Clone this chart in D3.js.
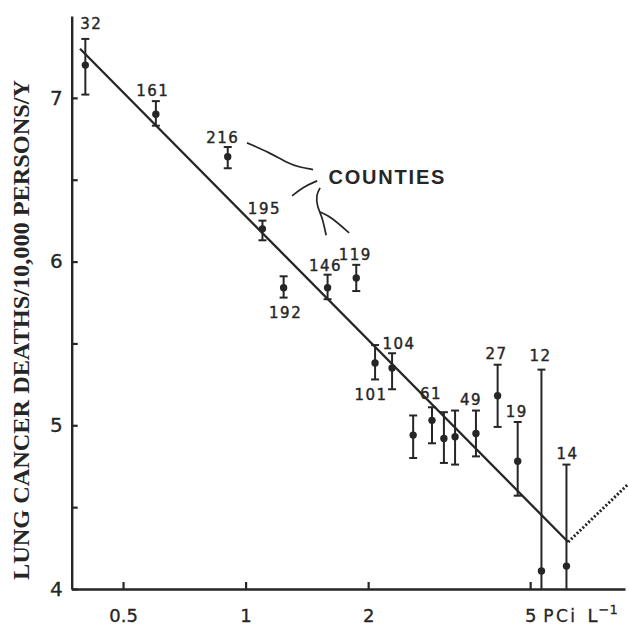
<!DOCTYPE html>
<html>
<head>
<meta charset="utf-8">
<script src="https://cdn.jsdelivr.net/npm/d3@7"></script>
<style>
  html, body { margin: 0; padding: 0; background: #fff; }
  svg { display: block; }
</style>
</head>
<body>
<svg id="chart" width="629" height="627"></svg>
<script>
// ---- data ----
const radon   = [0.404, 0.602, 0.904, 1.10, 1.24, 1.59, 1.87, 2.08, 2.29, 2.58, 2.87, 3.07, 3.27, 3.68, 4.16, 4.66, 5.33, 6.14];
const rate    = [7.20, 6.90, 6.64, 6.20, 5.84, 5.84, 5.90, 5.38, 5.35, 4.94, 5.03, 4.92, 4.93, 4.95, 5.18, 4.78, 4.11, 4.14];
const errHigh = [7.36, 6.98, 6.70, 6.25, 5.91, 5.92, 5.98, 5.49, 5.44, 5.06, 5.11, 5.08, 5.09, 5.09, 5.37, 5.02, 5.34, 4.76];
const errLow  = [7.02, 6.83, 6.57, 6.13, 5.78, 5.77, 5.82, 5.28, 5.22, 4.80, 4.89, 4.77, 4.76, 4.81, 4.99, 4.57, 4.00, 4.00];
const counties = ["32","161","216","195","192","146","119","101","104","","61","","","49","27","19","12","14"];

const fitX = [0.392, 6.20];
const fitY = [7.30, 4.287];
const extX = [6.20, 8.70];
const extY = [4.287, 4.64];

const xTicks = [0.5, 1, 2, 5];
const xTickLabels = ["0.5", "1", "2", "5"];
const yTicks = [4, 4.5, 5, 5.5, 6, 6.5, 7];
const yTickLabels = ["4", "", "5", "", "6", "", "7"];

const yTitle = "LUNG CANCER DEATHS/10,000 PERSONS/Y";
const annotText = "COUNTIES";
const annotAt = [2.23, 6.517];
// leader curves from "COUNTIES" in data coordinates
const leader1 = [[1.008, 6.725], [1.149, 6.664], [1.264, 6.603], [1.361, 6.575], [1.465, 6.562]];
const leader2 = [[1.301, 6.401], [1.384, 6.456], [1.499, 6.493]];
const leader3 = [[1.524, 6.450], [1.490, 6.407], [1.499, 6.334], [1.541, 6.277], [1.577, 6.161]];
const leader4 = [[1.524, 6.303], [1.613, 6.277], [1.796, 6.175]];

// ---- layout (label placement, not data) ----
const labelSide = ["a","a","a","a","b","a","a","b","a","a","a","a","a","a","a","a","a","a"];
const labelDx   = [6, -3, -5, 2, 2, -2, -1, -4, 7, 0, -1, 0, 0, -5, -1, -1, -1, 1];
const labelGap  = [15, 11, 9, 12, 15, 9, 10, 15, 10, 0, 14, 0, 0, 11, 11, 10, 14, 11];

const ink = "#262626";
const svg = d3.select("#chart");

const x = d3.scaleLog().domain([0.374, 8.55]).range([71.7, 625]);
const y = d3.scaleLinear().domain([4, 7.5]).range([589, 16]);

// axes
const xAxis = svg.append("g")
  .attr("transform", `translate(0,${y(4)})`)
  .call(d3.axisBottom(x).tickValues(xTicks)
    .tickFormat((d, i) => xTickLabels[i])
    .tickSizeInner(-7).tickSizeOuter(0).tickPadding(20));
xAxis.select(".domain").attr("stroke", ink).attr("stroke-width", 2.4);
xAxis.selectAll(".tick line").attr("stroke", ink).attr("stroke-width", 2.2);
xAxis.selectAll(".tick text").attr("fill", ink)
  .attr("font-family", "DejaVu Sans").attr("font-size", 18)
  .attr("stroke", ink).attr("stroke-width", 0.3);

const yAxis = svg.append("g")
  .attr("transform", `translate(${x.range()[0]},0)`)
  .call(d3.axisLeft(y).tickValues(yTicks)
    .tickFormat((d, i) => yTickLabels[i])
    .tickSizeInner(-6).tickSizeOuter(0).tickPadding(9));
yAxis.select(".domain").attr("stroke", ink).attr("stroke-width", 2.4);
yAxis.selectAll(".tick line").attr("stroke", ink).attr("stroke-width", 2.2);
yAxis.selectAll(".tick text").attr("fill", ink)
  .attr("font-family", "DejaVu Sans").attr("font-size", 20)
  .attr("stroke", ink).attr("stroke-width", 0.3);

// unit label "PCi L^-1"
const unit = svg.append("text")
  .attr("x", x(5) + 13)
  .attr("y", y(4) + 20 + 12.8)
  .attr("fill", ink)
  .attr("stroke", ink).attr("stroke-width", 0.3)
  .attr("font-family", "DejaVu Sans");
unit.append("tspan").attr("font-size", 17).attr("letter-spacing", 2.5).text("PCi");
unit.append("tspan").attr("font-size", 18).attr("dx", 10).text("L");
unit.append("tspan").attr("font-size", 13).attr("dy", -8).attr("dx", 1).text("−1");

// y title
svg.append("text")
  .attr("transform", `translate(29,330) rotate(-90)`)
  .attr("text-anchor", "middle")
  .attr("font-family", "Liberation Serif")
  .attr("font-weight", "bold")
  .attr("font-size", 24)
  .attr("textLength", 500)
  .attr("lengthAdjust", "spacingAndGlyphs")
  .attr("fill", ink)
  .text(yTitle);

// fit line + dotted extension
const line = d3.line().x(d => x(d[0])).y(d => y(d[1]));
svg.append("path")
  .attr("d", line(fitX.map((v, i) => [v, fitY[i]])))
  .attr("fill", "none").attr("stroke", ink).attr("stroke-width", 2.3);
svg.append("path")
  .attr("d", line(extX.map((v, i) => [v, extY[i]])))
  .attr("fill", "none").attr("stroke", ink).attr("stroke-width", 3)
  .attr("stroke-dasharray", "2 2");

// error bars + points
const pts = radon.map((r, i) => ({ r, v: rate[i], hi: errHigh[i], lo: errLow[i], c: counties[i], i }));
const g = svg.append("g").attr("stroke", ink).attr("fill", ink);
const cap = 4;
pts.forEach(d => {
  const cx = x(d.r);
  g.append("line").attr("x1", cx).attr("x2", cx).attr("y1", y(d.hi)).attr("y2", y(d.lo)).attr("stroke-width", 2);
  g.append("line").attr("x1", cx - cap).attr("x2", cx + cap).attr("y1", y(d.hi)).attr("y2", y(d.hi)).attr("stroke-width", 2);
  if (d.lo > 4.001) {
    g.append("line").attr("x1", cx - cap).attr("x2", cx + cap).attr("y1", y(d.lo)).attr("y2", y(d.lo)).attr("stroke-width", 2);
  }
  g.append("circle").attr("cx", cx).attr("cy", y(d.v)).attr("r", 3.7).attr("stroke", "none");
});

// county labels
svg.append("g").selectAll("text")
  .data(pts.filter(d => d.c !== ""))
  .join("text")
  .attr("x", d => x(d.r) + labelDx[d.i])
  .attr("y", d => labelSide[d.i] === "a" ? y(d.hi) - labelGap[d.i] : y(d.lo) + labelGap[d.i])
  .attr("dy", "0.36em")
  .attr("text-anchor", "middle")
  .attr("font-family", "DejaVu Sans")
  .attr("font-size", 15)
  .attr("letter-spacing", 1.5)
  .attr("fill", ink)
  .attr("stroke", ink).attr("stroke-width", 0.4)
  .text(d => d.c);

// COUNTIES annotation
svg.append("text")
  .attr("x", x(annotAt[0]))
  .attr("y", y(annotAt[1]))
  .attr("dy", "0.36em")
  .attr("text-anchor", "middle")
  .attr("font-family", "Liberation Sans")
  .attr("font-weight", "bold")
  .attr("font-size", 20)
  .attr("letter-spacing", 1.8)
  .attr("fill", ink)
  .text(annotText);

const curve = d3.line().x(d => x(d[0])).y(d => y(d[1])).curve(d3.curveBasis);
[leader1, leader2, leader3, leader4].forEach(L => {
  svg.append("path").attr("d", curve(L))
    .attr("fill", "none").attr("stroke", ink).attr("stroke-width", 1.7);
});
</script>
</body>
</html>
